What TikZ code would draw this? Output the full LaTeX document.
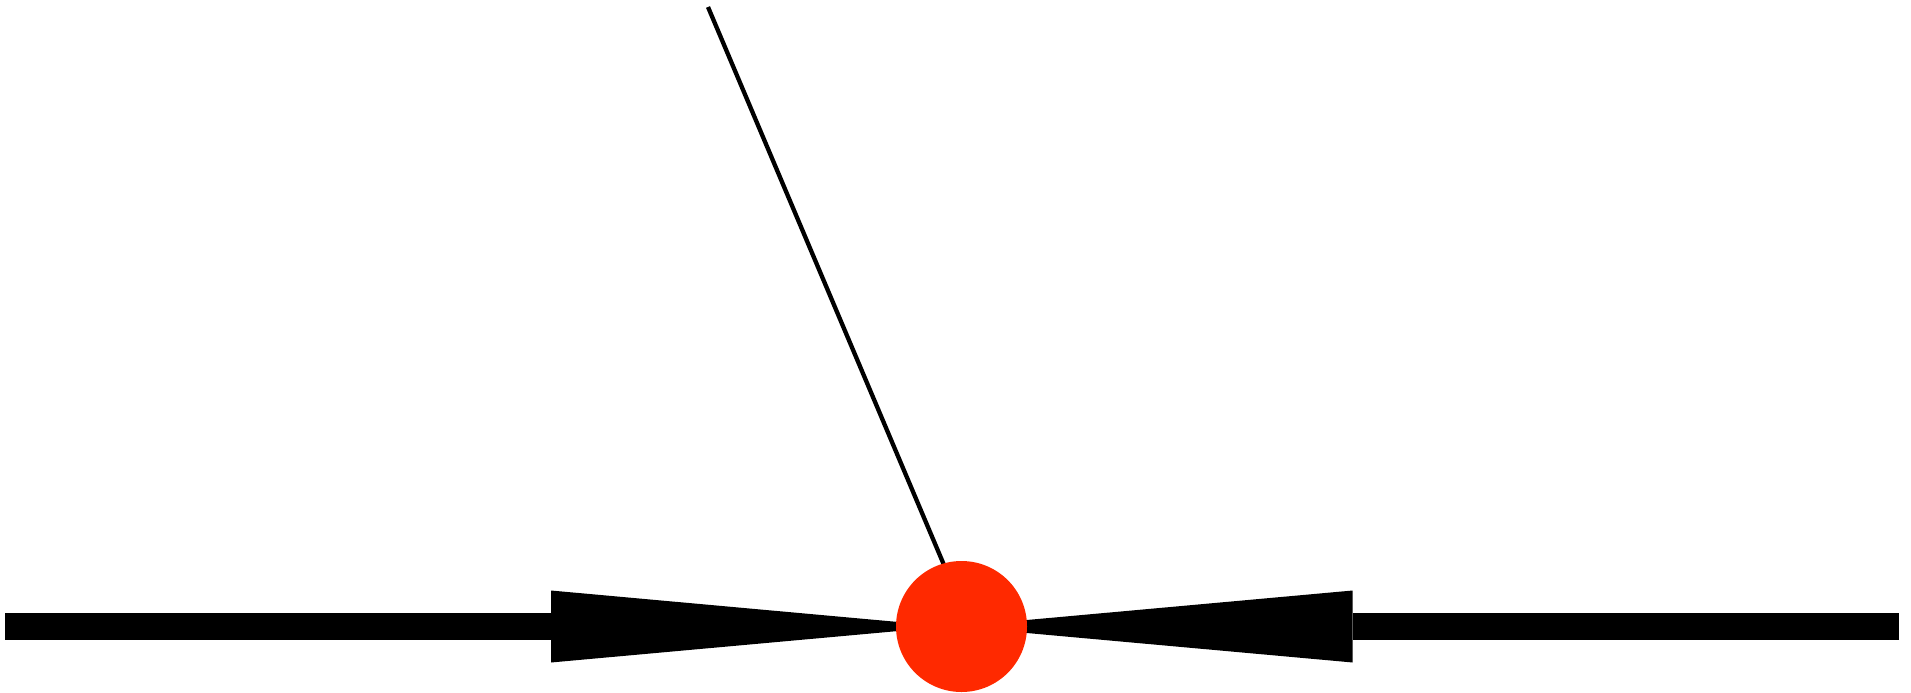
\documentclass[tikz,border=0pt]{standalone}
\definecolor{dotred}{RGB}{255,41,0}
\tikzset{
  shaft/.style={line width=27.5pt},
  head/.style={fill=black},
  rod/.style={line width=4.3pt},
  dot/.style={circle, fill=dotred, draw=none, minimum size=131pt, inner sep=0pt}
}
\begin{document}
\begin{tikzpicture}[x=1pt,y=-1pt]
\useasboundingbox (0,0) rectangle (1911,693);
\coordinate (ctr) at (961.5,626.5);
\coordinate (lstart) at (5,626.5);
\coordinate (lbase) at (551,626.5);
\coordinate (ltip) at (948,626.5);
\coordinate (rstart) at (1899,626.5);
\coordinate (rbase) at (1352.7,626.5);
\coordinate (rtip) at (955,626.5);
\coordinate (top) at (708,7);
\coordinate (rodend) at (970,626.5);
% thin rod
\draw[rod] (top) -- (rodend);
% left arrow
\draw[shaft] (lstart) -- (lbase);
\fill[head] ([yshift=-36pt]lbase) -- (ltip) -- ([yshift=36pt]lbase) -- cycle;
% right arrow
\draw[shaft] (rstart) -- (rbase);
\fill[head] ([yshift=-36pt]rbase) -- (rtip) -- ([yshift=36pt]rbase) -- cycle;
% red dot
\node[dot] (c) at (ctr) {};
\end{tikzpicture}
\end{document}
